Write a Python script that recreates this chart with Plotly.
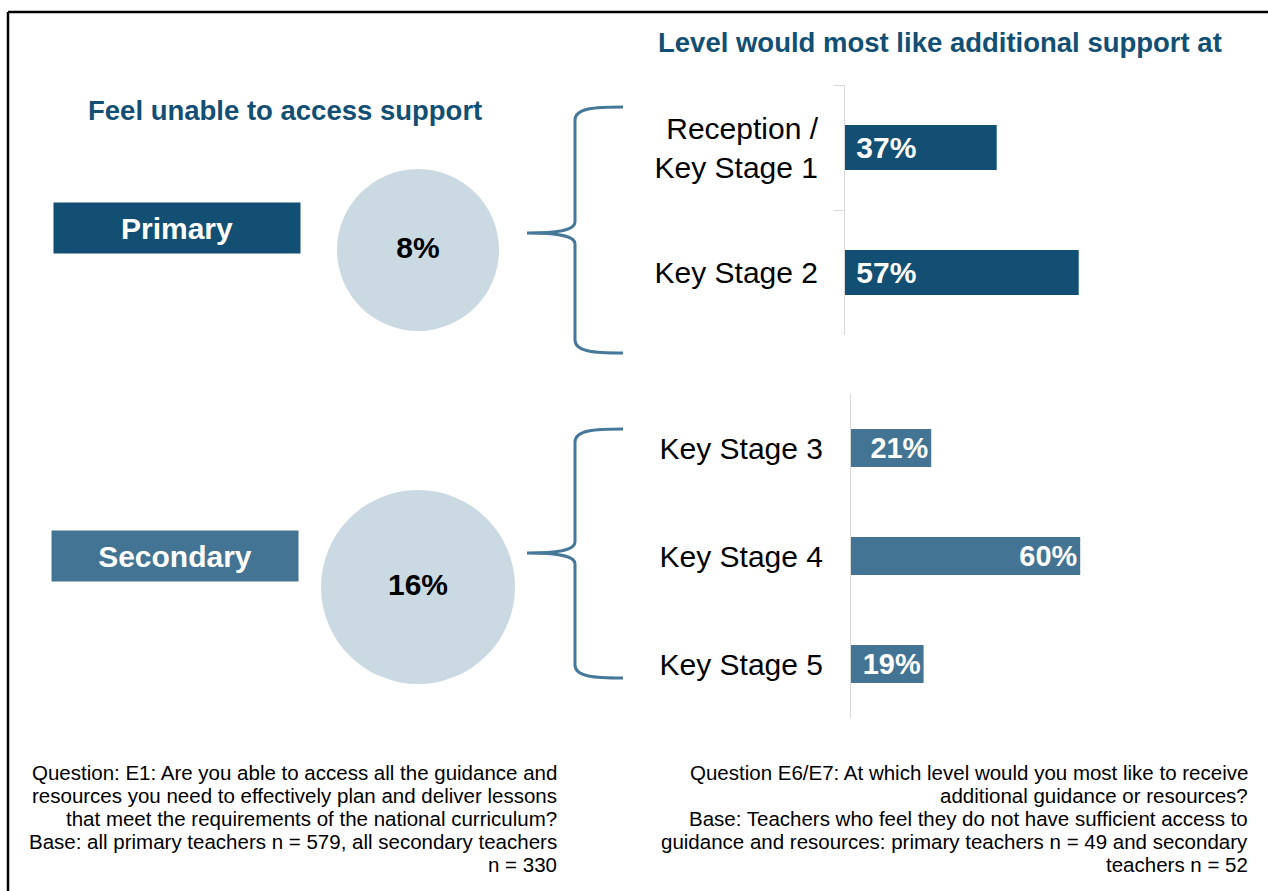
import plotly.graph_objects as go

W, H = 1268, 891
FONT = "Liberation Sans, Arial, sans-serif"

# Share of teachers who feel unable to access support
phase_names = ["Primary", "Secondary"]
unable_pct = [8, 16]

# Level at which additional support would be most wanted
primary_levels = ["Reception /<br>Key Stage 1", "Key Stage 2"]
primary_pct = [37, 57]
secondary_levels = ["Key Stage 3", "Key Stage 4", "Key Stage 5"]
secondary_pct = [21, 60, 19]

title_left = "Feel unable to access support"
title_right = "Level would most like additional support at"

footnote_left = [
    "Question: E1: Are you able to access all the guidance and",
    "resources you need to effectively plan and deliver lessons",
    "that meet the requirements of the national curriculum?",
    "Base: all primary teachers n = 579, all secondary teachers",
    "n = 330",
]
footnote_right = [
    "Question E6/E7: At which level would you most like to receive",
    "additional guidance or resources?",
    "Base: Teachers who feel they do not have sufficient access to",
    "guidance and resources: primary teachers n = 49 and secondary",
    "teachers n = 52",
]

# Colours
DARK = "#124f73"
MID = "#437493"
CIRCLE = "#cbd9e3"
BRACE = "#46789a"
AXIS = "#d9d9d9"

# Layout helpers (pixel -> paper)
def px(x):
    return x / W

def py(y):
    return 1 - y / H

# Circle placement on the full-page pixel axes
circle_x = [418, 418]
circle_y = [250, 587]
circle_d = [162, 194]

fig = go.Figure()

# Primary bars
fig.add_trace(go.Bar(
    x=primary_pct, y=primary_levels, orientation="h",
    marker=dict(color=DARK, line=dict(width=0)), width=0.36,
    texttemplate="\u00a0%{x}%", textposition="inside", insidetextanchor="start",
    textfont=dict(family=FONT, size=30, color="white", weight="bold"),
    xaxis="x", yaxis="y", showlegend=False, hoverinfo="skip",
))

# Secondary bars
fig.add_trace(go.Bar(
    x=secondary_pct, y=secondary_levels, orientation="h",
    marker=dict(color=MID, line=dict(width=0)), width=0.35,
    texttemplate="%{x}%", textposition="inside", insidetextanchor="end",
    textfont=dict(family=FONT, size=30, color="white", weight="bold"),
    xaxis="x2", yaxis="y2", showlegend=False, hoverinfo="skip",
))

# Circles for "feel unable to access support"
fig.add_trace(go.Scatter(
    x=circle_x, y=circle_y, mode="markers+text",
    marker=dict(size=circle_d, color=CIRCLE, opacity=1, line=dict(width=0)),
    text=[f"{v}%" for v in unable_pct], textposition="middle center",
    textfont=dict(family=FONT, size=30, color="black", weight="bold"),
    xaxis="x3", yaxis="y3", showlegend=False, hoverinfo="skip",
))

hidden = dict(visible=False, showgrid=False, zeroline=False, fixedrange=True)

fig.update_layout(
    width=W, height=H,
    margin=dict(l=0, r=0, t=0, b=0),
    paper_bgcolor="white", plot_bgcolor="rgba(0,0,0,0)",
    font=dict(family=FONT, color="black"),
    xaxis=dict(domain=[px(845), px(1255)], range=[0, 100], anchor="y", **hidden),
    yaxis=dict(
        domain=[py(335), py(85)], anchor="x", type="category",
        categoryorder="array", categoryarray=primary_levels, autorange="reversed",
        showline=True, linecolor=AXIS, linewidth=1,
        ticks="outside", tickson="boundaries", ticklen=10, tickcolor=AXIS,
        tickfont=dict(family=FONT, size=30, color="black"),
        ticklabelstandoff=20, showgrid=False, zeroline=False, fixedrange=True,
    ),
    xaxis2=dict(domain=[px(851), px(1233)], range=[0, 100], anchor="y2", **hidden),
    yaxis2=dict(
        domain=[py(718), py(394)], anchor="x2", type="category",
        categoryorder="array", categoryarray=secondary_levels, autorange="reversed",
        showline=True, linecolor=AXIS, linewidth=1, ticks="",
        tickfont=dict(family=FONT, size=30, color="black"),
        ticklabelstandoff=21, showgrid=False, zeroline=False, fixedrange=True,
    ),
    xaxis3=dict(domain=[0, 1], range=[0, W], anchor="y3", **hidden),
    yaxis3=dict(domain=[0, 1], range=[H, 0], anchor="x3", **hidden),
)

# Braces linking each phase to its levels
def brace(top, mid, bottom, x_arm=623, x_spine=575, x_tip=527):
    return (
        f"M {x_arm},{top} C {x_arm-28},{top} {x_spine},{top+1} {x_spine},{top+13} "
        f"L {x_spine},{mid-11} C {x_spine},{mid-3} {x_spine-15},{mid} {x_tip},{mid} "
        f"C {x_spine-15},{mid} {x_spine},{mid+3} {x_spine},{mid+11} "
        f"L {x_spine},{bottom-13} C {x_spine},{bottom-1} {x_arm-28},{bottom} {x_arm},{bottom}"
    )

shapes = [
    dict(type="path", path=brace(107, 233, 353), xref="x3", yref="y3",
         line=dict(color=BRACE, width=3)),
    dict(type="path", path=brace(429, 553, 678), xref="x3", yref="y3",
         line=dict(color=BRACE, width=3)),
    # page frame
    dict(type="line", x0=8, x1=W + 10, y0=12, y1=12, xref="x3", yref="y3",
         line=dict(color="black", width=2.5)),
    dict(type="line", x0=8, x1=8, y0=12, y1=H + 10, xref="x3", yref="y3",
         line=dict(color="black", width=2.5)),
]
fig.update_layout(shapes=shapes)

annotations = [
    dict(text=title_right, x=px(940), y=py(42), xref="paper", yref="paper",
         xanchor="center", yanchor="middle", showarrow=False,
         font=dict(family=FONT, size=27.5, color=DARK, weight="bold")),
    dict(text=title_left, x=px(285), y=py(110), xref="paper", yref="paper",
         xanchor="center", yanchor="middle", showarrow=False,
         font=dict(family=FONT, size=27.5, color=DARK, weight="bold")),
    dict(text=phase_names[0], x=px(177), y=py(228), xref="paper", yref="paper",
         xanchor="center", yanchor="middle", showarrow=False,
         width=244, height=48, borderpad=1, bgcolor=DARK,
         font=dict(family=FONT, size=30, color="white", weight="bold")),
    dict(text=phase_names[1], x=px(175), y=py(556), xref="paper", yref="paper",
         xanchor="center", yanchor="middle", showarrow=False,
         width=244, height=48, borderpad=1, bgcolor=MID,
         font=dict(family=FONT, size=30, color="white", weight="bold")),
]

line_y = [772, 795, 818, 841, 864]
for txt, yy in zip(footnote_left, line_y):
    annotations.append(dict(text=txt, x=px(559), y=py(yy), xref="paper", yref="paper",
                            xanchor="right", yanchor="middle", showarrow=False,
                            font=dict(family=FONT, size=20.5, color="black")))
for txt, yy in zip(footnote_right, line_y):
    annotations.append(dict(text=txt, x=px(1250), y=py(yy), xref="paper", yref="paper",
                            xanchor="right", yanchor="middle", showarrow=False,
                            font=dict(family=FONT, size=20.5, color="black")))

fig.update_layout(annotations=annotations)

fig.write_html("out.html")
